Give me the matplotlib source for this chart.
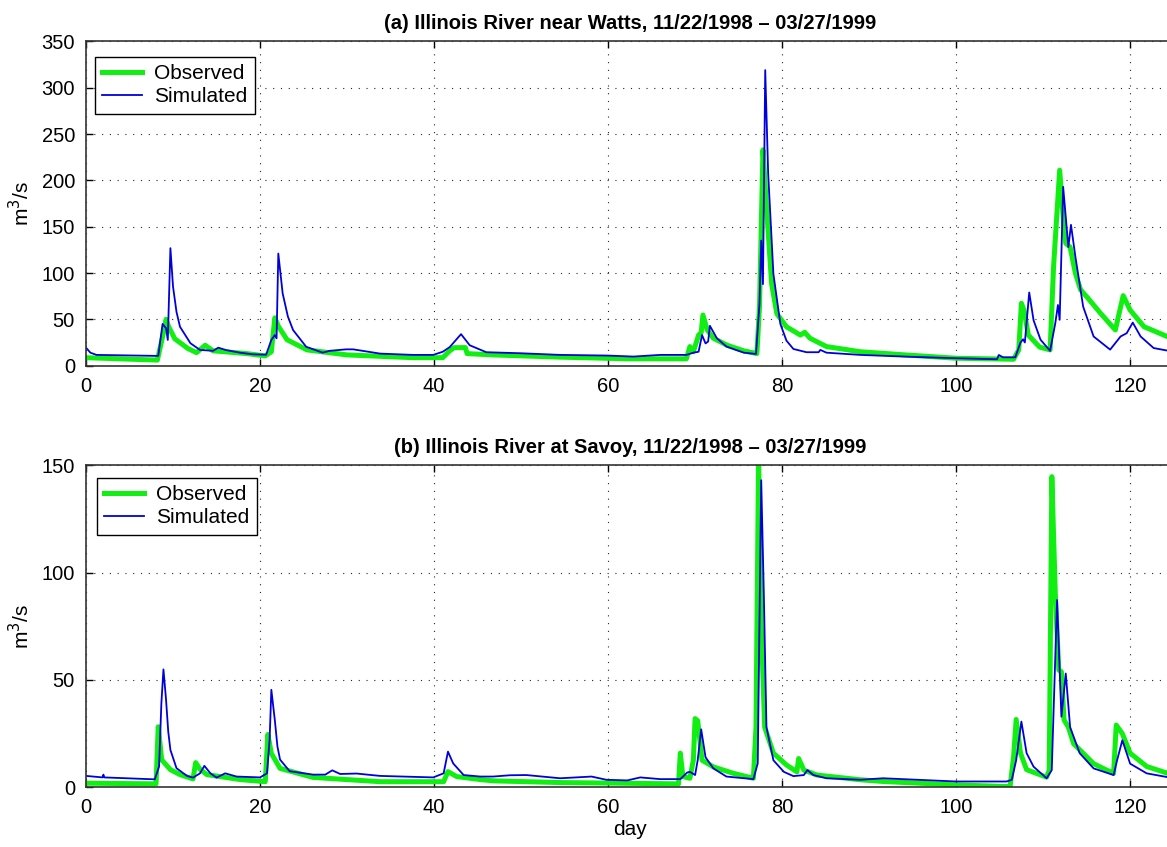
import matplotlib
matplotlib.use("Agg")
import matplotlib.pyplot as plt

plt.rcParams['font.family'] = ['Liberation Sans', 'DejaVu Sans']

# (a) Illinois River near Watts -- observed / simulated discharge (m3/s)
watts_obs_day = [0, 8.2, 8.8, 9.2, 9.5, 10.2, 11.7, 12.7, 13.7, 14.6, 18.5, 20.6, 21.3, 21.7,
                 22.1, 23.1, 25.4, 30, 37.6, 41, 41.8, 42.3, 43.6, 43.8, 46.8, 54.5, 62.2, 69,
                 69.4, 69.8, 70.4, 70.7, 70.9, 71.4, 72.1, 73.7, 75.6, 77.1, 77.4, 77.8, 78.2,
                 78.8, 79.4, 80.5, 82.1, 82.6, 83.2, 85.1, 89, 94.3, 100, 106.6, 107.2, 107.5,
                 107.8, 108.3, 109.6, 110.8, 111.2, 111.9, 112.3, 112.6, 113.1, 113.7, 114.3,
                 115, 116.6, 118.3, 119.2, 120, 121.6, 125]
watts_obs_q = [8.6, 6, 31, 50, 42, 29, 18.6, 14, 22, 16, 13, 10.5, 15, 51.6,
               42.6, 28, 17, 11.6, 8.6, 8.6, 16, 19.4, 19.5, 13, 11.6, 9.2, 7.4, 7.4,
               20.6, 15, 33, 35.6, 54.7, 38.5, 29.6, 22, 16, 13, 63, 233, 172,
               88, 56, 42, 33, 36, 29.6, 20.6, 15, 11.5, 8, 6.9, 17, 67.3,
               60, 33, 20, 17, 107, 211, 161, 132, 128, 100, 82,
               74.5, 56.5, 38.5, 75.6, 60, 42, 28.5]

watts_sim_day = [0, 0.5, 1.2, 8.3, 8.8, 9.2, 9.4, 9.7, 10.0, 10.4, 10.8, 12.0, 13.1, 14.6, 15.2,
                 16.1, 17.7, 19.2, 20.7, 21.3, 21.7, 21.9, 22.1, 22.6, 23.2, 23.8, 25.3, 27.2, 28,
                 29.9, 30.7, 33.8, 37.6, 39.9, 41, 41.8, 43.1, 44.1, 46, 49.9, 54.5, 59.9,
                 62.9, 66, 69, 69.8, 70.4, 70.8, 71.2, 71.5, 71.7, 72.5, 73.6, 75.6, 77,
                 77.4, 77.6, 77.8, 78.06, 78.4, 79, 79.8, 80.5, 81.3, 82.8, 84.2, 84.4, 85.1,
                 89, 94.3, 100, 104.7, 104.9, 105.4, 106.8, 107.4, 107.7, 107.9, 108.4, 108.9,
                 109.7, 110.8, 111.4, 111.7, 111.9, 112.3, 112.9, 113.2, 113.7, 114.6, 115.8,
                 117.7, 118.9, 119.6, 120.3, 121.2, 122.7, 125]
watts_sim_q = [19.4, 14, 11.6, 10.5, 45, 40.4, 27.7, 126.8, 85.4, 58, 42, 24.2, 17, 16, 19.4,
               16.8, 14, 12.2, 11.8, 27.7, 33, 29.5, 121, 78, 53, 38.4, 20.4, 14, 16,
               17.6, 17.6, 13, 11.6, 11.6, 15, 20, 34, 22, 14.5, 13.4, 11.6, 10.9,
               9.8, 11.6, 11.6, 14, 15, 33, 24, 26, 43, 29.6, 20.6, 14, 12.6,
               67, 135, 88, 319, 207, 99, 45, 27, 18, 14.5, 14.5, 17, 14,
               11.6, 9.7, 8, 6.9, 11.5, 9, 9, 25, 28.5, 25, 79, 49,
               28, 16, 46, 65.5, 49.5, 193, 128, 152, 118, 63.7, 31.5,
               17.3, 31.5, 35, 46.5, 31.5, 19, 15]

# (b) Illinois River at Savoy
savoy_obs_day = [0, 8.05, 8.3, 8.7, 9.7, 10.8, 12.3, 12.6, 13.1, 13.9, 15.4, 17.7, 20.6, 20.9,
                 21.3, 22.3, 26.1, 33.8, 41.1, 41.6, 42.6, 45.3, 46.8, 54.5, 68.1, 68.3, 68.6,
                 69.4, 69.8, 70.0, 70.3, 70.8, 72.1, 74.4, 76.7, 77.0, 77.3, 77.6, 78.0, 79.0,
                 80.5, 81.7, 81.9, 82.5, 84, 89, 91.6, 100, 106.2, 106.6, 106.9, 107.4, 108.1,
                 110.4, 110.7, 111.0, 111.4, 111.8, 112.1, 112.4, 112.9, 113.5, 115.8, 117.7,
                 118.1, 118.4, 119.1, 120, 121.9, 125]
savoy_obs_q = [1.9, 1.6, 28.2, 12.8, 8.2, 5.9, 3.9, 11.5, 8.4, 5.9, 5.0, 3.6, 2.6, 24.6,
               15.8, 8.8, 4.6, 2.6, 2.6, 7.3, 5, 3.6, 3, 2.2, 1.6, 15.9, 5,
               4.2, 12.6, 32, 31, 12.6, 9.5, 6.5, 4.2, 28, 155, 75, 28, 15.9,
               10.4, 7.2, 13.4, 8, 5.7, 3.5, 2.7, 1.1, 0.3, 14, 31.6, 15.9, 8.2,
               4.7, 8, 144.7, 90, 54.6, 53.8, 31.4, 28, 20.3, 11, 7.2,
               6.5, 29, 25, 15.9, 9.7, 5.6]

savoy_sim_day = [0, 1.9, 2.0, 2.1, 7.9, 8.4, 8.66, 8.9, 9.2, 9.45, 9.7, 10.4, 11.6, 12.3, 13.1,
                 13.6, 14.3, 15, 16, 17.3, 20, 20.8, 21.1, 21.3, 21.7, 22.0, 22.3, 23.4, 26.1, 27.5,
                 28.3, 29.2, 31.1, 33.8, 39.9, 41.1, 41.6, 42.2, 43.4, 45.3, 46.8, 48.7, 50.6,
                 54.5, 58.1, 59.8, 62.2, 63.7, 66, 68.3, 69.1, 69.4, 70.0, 70.3, 70.7, 71.2,
                 72.1, 73.6, 76.7, 77.2, 77.6, 77.9, 78.2, 79.0, 80.2, 81.3, 82.5, 82.9, 83.6,
                 85.1, 89, 91.6, 100, 105.8, 106.4, 106.9, 107.5, 108.1, 108.9, 110.4, 110.99,
                 111.6, 112.1, 112.6, 113.1, 114.2, 115.8, 118.1, 118.5, 119.1, 120, 121.9, 125]
savoy_sim_q = [5.3, 4.6, 5.9, 4.6, 3.7, 9.7, 39, 54.9, 40.7, 26, 17.4, 8.9, 5.3, 4.5, 6.5,
               10, 6.5, 4.5, 6.5, 5, 4.6, 6.5, 22, 45.4, 31.3, 19, 12.9, 7.5, 5.9, 5.9,
               7.9, 6.2, 6.4, 5.3, 4.6, 6.5, 16.6, 11.1, 5.7, 5, 5, 5.6, 5.7,
               4.2, 5, 3.5, 3.2, 4.6, 3.8, 3.8, 6.9, 7.2, 5.7, 12.6, 27, 14,
               8.8, 5, 3.8, 11.2, 143, 90, 28, 12.6, 7.2, 5.2, 5.7, 8, 5.7,
               4.2, 3.5, 4.2, 2.7, 2.7, 3.5, 12.6, 30.6, 15.9, 9.6, 4.2, 8,
               87.2, 32.9, 53, 28, 15.9, 8.8, 5.7, 12.6, 21.9, 11, 6.5, 4.2]

titles = ['(a) Illinois River near Watts, 11/22/1998 \u2013 03/27/1999',
          '(b) Illinois River at Savoy, 11/22/1998 \u2013 03/27/1999']
ylims = [350, 150]
yticks = [range(0, 351, 50), range(0, 151, 50)]

fig = plt.figure(figsize=(11.67, 8.47), dpi=100)
ax1 = fig.add_axes([0.0737, 0.5683, 0.932, 0.3828])
ax2 = fig.add_axes([0.0737, 0.0705, 0.932, 0.3802])

series = [(watts_obs_day, watts_obs_q, watts_sim_day, watts_sim_q),
          (savoy_obs_day, savoy_obs_q, savoy_sim_day, savoy_sim_q)]
legend_pos = [(0.0083, 0.952), (0.010, 0.9606)]

for i, ax in enumerate([ax1, ax2]):
    od, oq, sd, sq = series[i]
    ax.plot(od, oq, color='#11ee11', lw=3.6, label='Observed', solid_joinstyle='round')
    ax.plot(sd, sq, color='#0000dd', lw=1.3, label='Simulated')
    ax.set_xlim(0, 125)
    ax.set_ylim(0, ylims[i])
    ax.set_xticks(range(0, 121, 20))
    ax.set_yticks(list(yticks[i]))
    ax.grid(True, color='0.15', linestyle=(0, (1, 6)), lw=0.8)
    ax.tick_params(direction='in', length=5, width=1, top=True, right=True,
                   labelsize=14.5, pad=8)
    for s in ax.spines.values():
        s.set_linewidth(1.2)
        s.set_color('0.2')
    ax.set_title(titles[i], fontsize=14.5, fontweight='bold', pad=9)
    ax.set_ylabel('m$^3$/s', fontsize=15, labelpad=6)
    leg = ax.legend(loc='upper left', bbox_to_anchor=legend_pos[i], fontsize=15,
                    fancybox=False, framealpha=1, edgecolor='black', borderpad=0.35,
                    labelspacing=0.2, handlelength=1.9, handletextpad=0.6,
                    borderaxespad=0)
    leg.get_frame().set_linewidth(1.0)

ax2.set_xlabel('day', fontsize=15, labelpad=2)

fig.savefig('out.png', dpi=100)
